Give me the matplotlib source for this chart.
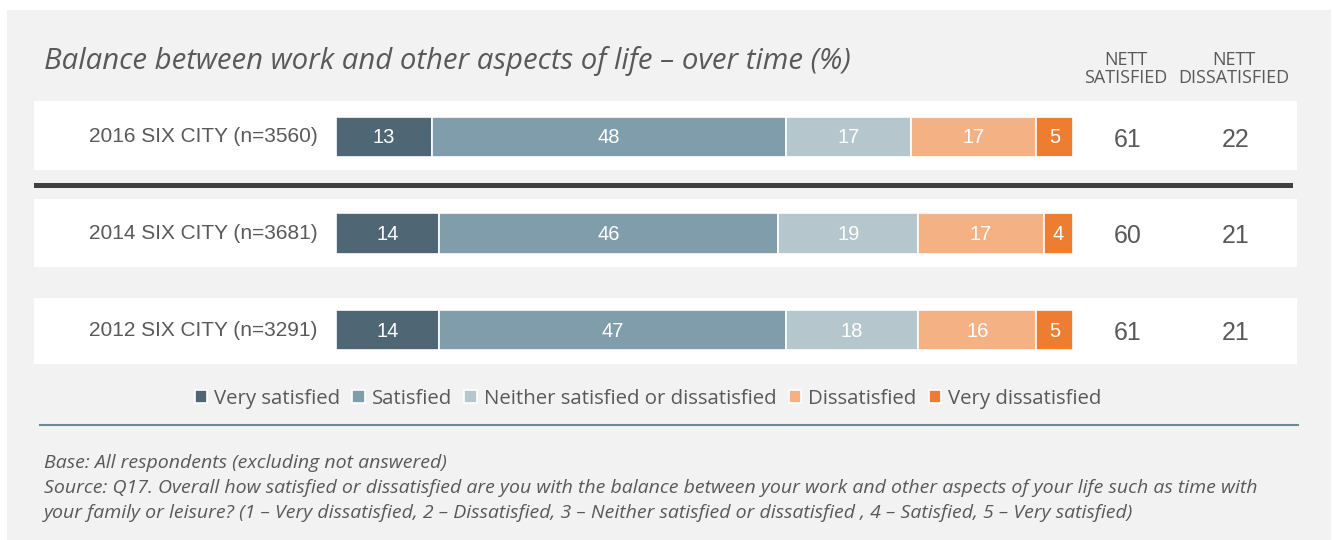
import numpy as np
import matplotlib.pyplot as plt
from matplotlib.patches import Rectangle

# data
rows = ['2016 SIX CITY (n=3560)', '2014 SIX CITY (n=3681)', '2012 SIX CITY (n=3291)']
very_satisfied = [13, 14, 14]
satisfied = [48, 46, 47]
neither = [17, 19, 18]
dissatisfied = [17, 17, 16]
very_dissatisfied = [5, 4, 5]
nett_satisfied = [61, 60, 61]
nett_dissatisfied = [22, 21, 21]
categories = ['Very satisfied', 'Satisfied', 'Neither satisfied or dissatisfied',
              'Dissatisfied', 'Very dissatisfied']
colors = ['#4f6774', '#7f9dab', '#b6c6cd', '#f4b183', '#ed7d31']

W, H = 1333, 540
TXT = '#595959'
CAL = ['Open Sans', 'DejaVu Sans']

fig = plt.figure(figsize=(W / 100, H / 100), dpi=100)
fig.patch.set_facecolor('white')

# background axes in pixel coords
bg = fig.add_axes([0, 0, 1, 1])
bg.set_xlim(0, W)
bg.set_ylim(H, 0)
bg.axis('off')
bg.add_patch(Rectangle((7, 10), 1324, 530, color='#f2f2f2', lw=0))
for top, bot in [(101, 170), (199, 267), (298, 364)]:
    bg.add_patch(Rectangle((34, top), 1263, bot - top, color='white', lw=0))
bg.add_patch(Rectangle((34, 183), 1259, 5, color='#404040', lw=0))
bg.plot([40, 1298], [425, 425], color='#6f8896', lw=1.5)

bg.text(44, 61, 'Balance between work and other aspects of life \u2013 over time (%)',
        fontsize=21.2, style='italic', color=TXT, family=CAL, va='center')
bg.text(1126, 69, 'NETT\nSATISFIED', fontsize=13, color=TXT, family=CAL,
        ha='center', va='center', linespacing=0.95)
bg.text(1234, 69, 'NETT\nDISSATISFIED', fontsize=13, color=TXT, family=CAL,
        ha='center', va='center', linespacing=0.95)

# bar axes
x0, x1 = 336, 1073
ytop, ybot = 88.5, 378.5
ax = fig.add_axes([x0 / W, 1 - ybot / H, (x1 - x0) / W, (ybot - ytop) / H])
ax.set_xlim(0, 100)
ax.set_ylim(2.5, -0.5)
ax.axis('off')

series = [very_satisfied, satisfied, neither, dissatisfied, very_dissatisfied]
y = np.arange(len(rows))
left = np.zeros(len(rows))
handles = []
for vals, col, name in zip(series, colors, categories):
    b = ax.barh(y, vals, left=left, height=0.415, color=col, edgecolor='white',
                linewidth=1.2, label=name)
    handles.append(b)
    for yi, (l, v) in enumerate(zip(left, vals)):
        ax.text(l + v / 2, yi + 0.01, str(v), ha='center', va='center', color='white',
                fontsize=14.5, family='Liberation Sans')
    left += np.array(vals)

for yi, name in enumerate(rows):
    ax.text(-2.5, yi, name, ha='right', va='center', fontsize=15, color=TXT,
            family='Liberation Sans')
    ax.text(107.4, yi + 0.03, str(nett_satisfied[yi]), ha='center', va='center',
            fontsize=18, color=TXT, family='Liberation Sans')
    ax.text(122.0, yi + 0.03, str(nett_dissatisfied[yi]), ha='center', va='center',
            fontsize=18, color=TXT, family='Liberation Sans')

leg = fig.legend(handles=handles, labels=categories, loc='center',
                 bbox_to_anchor=(648 / W, 1 - 399 / H), ncol=5, frameon=False,
                 handlelength=0.6, handleheight=0.6, handletextpad=0.35,
                 columnspacing=0.6, prop={'family': CAL, 'size': 14.7})
for t in leg.get_texts():
    t.set_color(TXT)

notes = ['Base: All respondents (excluding not answered)',
         'Source: Q17. Overall how satisfied or dissatisfied are you with the balance between your work and other aspects of your life such as time with',
         'your family or leisure? (1 \u2013 Very dissatisfied, 2 \u2013 Dissatisfied, 3 \u2013 Neither satisfied or dissatisfied , 4 \u2013 Satisfied, 5 \u2013 Very satisfied)']
for i, s in enumerate(notes):
    bg.text(44, 463 + 25 * i, s, fontsize=14, style='italic', color=TXT,
            family=CAL, va='center')

fig.savefig('out.png', dpi=100, facecolor=fig.get_facecolor())
